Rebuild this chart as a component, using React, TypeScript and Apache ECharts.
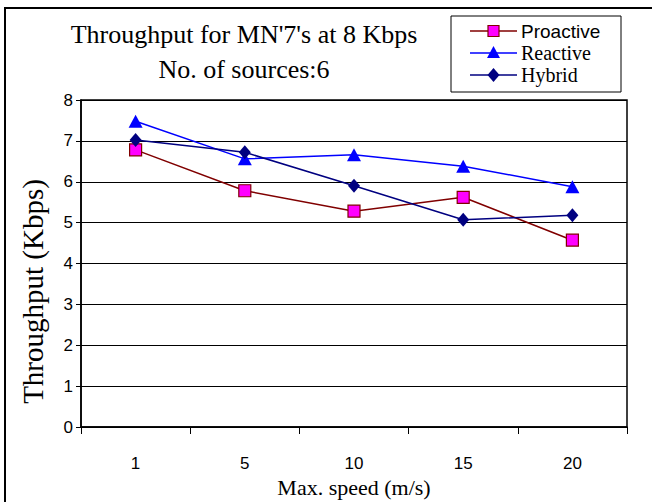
import React, { useEffect, useRef } from "react";
import * as echarts from "echarts";

const categories = ["1", "5", "10", "15", "20"];
const proactive = [6.78, 5.78, 5.28, 5.62, 4.57];
const reactive = [7.48, 6.56, 6.66, 6.38, 5.88];
const hybrid = [7.02, 6.72, 5.9, 5.07, 5.18];
const seriesNames = ["Proactive", "Reactive", "Hybrid"];
const titleLine1 = "Throughput for MN'7's at 8 Kbps";
const titleLine2 = "No. of sources:6";
const xName = "Max. speed (m/s)";
const yName = "Throughput (Kbps)";

const SERIF = "Liberation Serif";
const SANS = "Liberation Sans";

const lineColors = ["#800000", "#0000FF", "#000080"];

function legendMarker(i: number, cx: number, cy: number) {
  if (i === 0) {
    return {
      type: "rect",
      shape: { x: cx - 5.5, y: cy - 5.5, width: 11, height: 11 },
      style: { fill: "#FF00FF", stroke: "#800000", lineWidth: 1.2 },
      silent: true,
    };
  }
  if (i === 1) {
    return {
      type: "polygon",
      shape: { points: [[cx, cy - 7], [cx + 6.5, cy + 5], [cx - 6.5, cy + 5]] },
      style: { fill: "#0000FF" },
      silent: true,
    };
  }
  return {
    type: "polygon",
    shape: { points: [[cx, cy - 7], [cx + 6, cy], [cx, cy + 7], [cx - 6, cy]] },
    style: { fill: "#000080" },
    silent: true,
  };
}

export default function App() {
  const ref = useRef<HTMLDivElement>(null);
  useEffect(() => {
    if (!ref.current) return;
    const chart = echarts.init(ref.current, undefined, { renderer: "svg" });

    const legendGraphics: any[] = [];
    seriesNames.forEach((name, i) => {
      const cy = 31 + i * 22;
      legendGraphics.push({
        type: "line",
        shape: { x1: 470, y1: cy, x2: 517, y2: cy },
        style: { stroke: lineColors[i], lineWidth: 1.5 },
        silent: true,
      });
      legendGraphics.push(legendMarker(i, 493.5, cy));
      legendGraphics.push({
        type: "text",
        x: 521,
        y: cy,
        style: {
          text: name,
          fill: "#000",
          fontFamily: i === 0 ? SANS : SERIF,
          fontSize: i === 0 ? 19 : 20,
          lineHeight: 18,
          fontWeight: "normal",
          textAlign: "left",
          textVerticalAlign: "middle",
        },
        silent: true,
      });
    });

    chart.setOption({
      animation: false,
      backgroundColor: "#ffffff",
      title: [
        {
          text: titleLine1,
          left: 244,
          top: 21,
          textAlign: "center",
          padding: 0,
          textStyle: { fontFamily: SERIF, fontSize: 26, fontWeight: "normal", color: "#000" },
        },
        {
          text: titleLine2,
          left: 244,
          top: 56,
          textAlign: "center",
          padding: 0,
          textStyle: { fontFamily: SERIF, fontSize: 26, fontWeight: "normal", color: "#000" },
        },
      ],
      graphic: [
        {
          type: "rect",
          shape: { x: 5, y: 8, width: 700, height: 600 },
          style: { fill: "none", stroke: "#000", lineWidth: 2 },
          silent: true,
        },
        {
          type: "rect",
          shape: { x: 451, y: 16, width: 170, height: 76 },
          style: { fill: "#fff", stroke: "#000", lineWidth: 1 },
          silent: true,
        },
        ...legendGraphics,
      ],
      grid: {
        left: 81,
        right: 25,
        top: 100,
        bottom: 75,
        containLabel: false,
        outerBoundsMode: "none",
        show: true,
        borderColor: "#000",
        borderWidth: 1.5,
      },
      xAxis: {
        type: "category",
        data: categories,
        boundaryGap: true,
        name: xName,
        nameLocation: "middle",
        nameGap: 49,
        nameTextStyle: { fontFamily: SERIF, fontSize: 22, color: "#000" },
        axisLine: { lineStyle: { color: "#000", width: 1.5 } },
        axisTick: { show: true, alignWithLabel: false, length: 7, lineStyle: { color: "#000" } },
        axisLabel: { fontFamily: SANS, fontSize: 17, color: "#000", margin: 28 },
        splitLine: { show: false },
      },
      yAxis: {
        type: "value",
        min: 0,
        max: 8,
        interval: 1,
        name: yName,
        nameLocation: "middle",
        nameRotate: 90,
        nameGap: 34,
        nameTextStyle: { fontFamily: SERIF, fontSize: 29, color: "#000", padding: [0, 56, 0, 0] },
        axisLine: { show: true, lineStyle: { color: "#000", width: 1.5 } },
        axisTick: { show: true, length: 5, lineStyle: { color: "#000" } },
        axisLabel: { fontFamily: SANS, fontSize: 17, color: "#000", margin: 8 },
        splitLine: { show: true, lineStyle: { color: "#000", width: 1 } },
      },
      series: [
        {
          name: seriesNames[0],
          type: "line",
          data: proactive,
          symbol: "rect",
          symbolSize: 12,
          lineStyle: { color: lineColors[0], width: 1.5 },
          itemStyle: { color: "#FF00FF", borderColor: "#800000", borderWidth: 1.2 },
          z: 3,
        },
        {
          name: seriesNames[1],
          type: "line",
          data: reactive,
          symbol: "triangle",
          symbolSize: [14, 13],
          lineStyle: { color: lineColors[1], width: 1.5 },
          itemStyle: { color: "#0000FF" },
          z: 4,
        },
        {
          name: seriesNames[2],
          type: "line",
          data: hybrid,
          symbol: "diamond",
          symbolSize: [12, 14],
          lineStyle: { color: lineColors[2], width: 1.5 },
          itemStyle: { color: "#000080" },
          z: 5,
        },
      ],
    });
    return () => chart.dispose();
  }, []);
  return (
    <div
      ref={ref}
      style={{ position: "fixed", left: 0, top: 0, width: 652, height: 502, background: "#fff" }}
    />
  );
}
